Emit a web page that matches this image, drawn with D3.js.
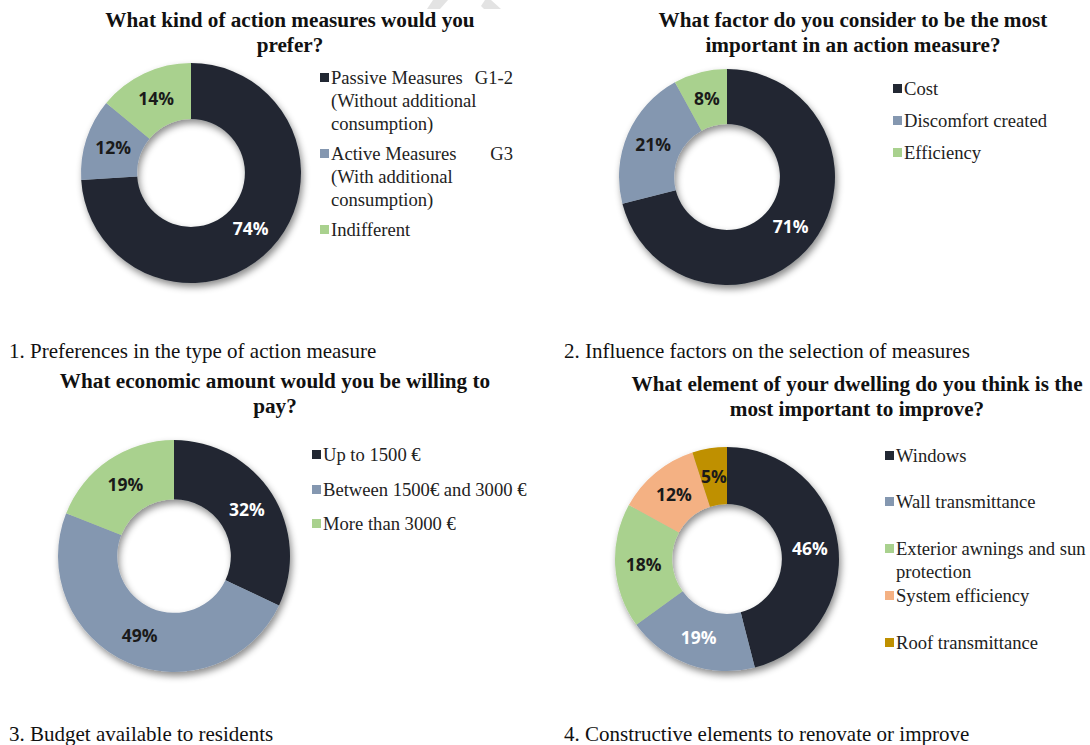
<!DOCTYPE html>
<html>
<head>
<meta charset="utf-8">
<script src="https://cdn.jsdelivr.net/npm/d3@7"></script>
<style>
  html, body { margin: 0; padding: 0; background: #fff; }
  svg { display: block; }
</style>
</head>
<body>
<svg id="chart" width="1090" height="745"></svg>
<script>
// ---------- DATA ----------
const chart1Title = ["What kind of action measures would you", "prefer?"];
const chart1Categories = ["Passive Measures G1-2", "Active Measures G3", "Indifferent"];
const chart1Legend = [["Passive Measures", "(Without additional", "consumption)"], ["Active Measures", "(With additional", "consumption)"], ["Indifferent"]];
const chart1LegendSuffix = ["G1-2", "G3", ""];
const chart1Values = [74, 12, 14];
const chart1Caption = "1. Preferences in the type of action measure";

const chart2Title = ["What factor do you consider to be the most", "important in an action measure?"];
const chart2Categories = ["Cost", "Discomfort created", "Efficiency"];
const chart2Values = [71, 21, 8];
const chart2Caption = "2. Influence factors on the selection of measures";

const chart3Title = ["What economic amount would you be willing to", "pay?"];
const chart3Categories = ["Up to 1500 €", "Between 1500€ and 3000 €", "More than 3000 €"];
const chart3Values = [32, 49, 19];
const chart3Caption = "3. Budget available to residents";

const chart4Title = ["What element of your dwelling do you think is the", "most important to improve?"];
const chart4Categories = ["Windows", "Wall transmittance", "Exterior awnings and sun protection", "System efficiency", "Roof transmittance"];
const chart4Legend = [["Windows"], ["Wall transmittance"], ["Exterior awnings and sun", "protection"], ["System efficiency"], ["Roof transmittance"]];
const chart4Values = [46, 19, 18, 12, 5];
const chart4Caption = "4. Constructive elements to renovate or improve";

// ---------- STYLE ----------
const palette = ["#222833", "#8497B0", "#A9D18E", "#F4B183", "#BF9000"];
const labelColors1 = ["#ffffff", "#1a1a1a", "#1a1a1a"];
const labelColors2 = ["#ffffff", "#1a1a1a", "#1a1a1a"];
const labelColors3 = ["#ffffff", "#1a1a1a", "#1a1a1a"];
const labelColors4 = ["#ffffff", "#ffffff", "#1a1a1a", "#1a1a1a", "#1a1a1a"];

const svg = d3.select("#chart");
const defs = svg.append("defs");
const filt = defs.append("filter").attr("id", "shadow")
  .attr("x", "-20%").attr("y", "-20%").attr("width", "150%").attr("height", "150%");
filt.append("feDropShadow").attr("dx", 2).attr("dy", 4).attr("stdDeviation", 3.5)
  .attr("flood-color", "#000").attr("flood-opacity", 0.45);

// faint watermark fragments at the top edge (decorative)
const wm = svg.append("g").attr("fill", "#e3e3e3");
wm.append("path").attr("d", "M433,0 L448,0 L440,9 L427,9 Z");
wm.append("path").attr("d", "M485,0 L491,0 L501,9 L484,9 L481,6 Z");

const serif = "'Liberation Serif', 'Times New Roman', serif";
const sans = "'Open Sans', 'Noto Sans', sans-serif";

function drawDonut(cfg) {
  const g = svg.append("g");
  // title
  g.append("text")
    .attr("x", cfg.titleX).attr("y", cfg.titleY)
    .attr("text-anchor", "middle")
    .style("font-family", serif).style("font-weight", "bold").style("font-size", "21.2px")
    .style("fill", "#111")
    .selectAll("tspan").data(cfg.title).join("tspan")
    .attr("x", cfg.titleX).attr("dy", (d, i) => i === 0 ? 0 : 24.5)
    .text(d => d);

  const pie = d3.pie().sort(null).startAngle(0).endAngle(2 * Math.PI);
  const arcs = pie(cfg.values);
  const arc = d3.arc().innerRadius(cfg.r * 0.49).outerRadius(cfg.r);
  const labelArc = d3.arc().innerRadius(cfg.r * 0.745).outerRadius(cfg.r * 0.745);

  const pg = g.append("g").attr("transform", `translate(${cfg.cx},${cfg.cy})`);
  pg.append("g").attr("filter", "url(#shadow)")
    .selectAll("path").data(arcs).join("path")
    .attr("d", arc)
    .attr("fill", (d, i) => palette[i])
    .attr("stroke", "none");

  pg.selectAll("text.lbl").data(arcs).join("text")
    .attr("class", "lbl")
    .attr("transform", d => {
      const c = labelArc.centroid(d);
      return `translate(${c[0]},${c[1]})`;
    })
    .attr("text-anchor", "middle").attr("dy", "0.36em")
    .style("font-family", sans).style("font-weight", "bold").style("font-size", "17.5px")
    .style("fill", (d, i) => cfg.labelColors[i])
    .text(d => d.data + "%");

  // legend
  const lg = g.append("g");
  cfg.legend.forEach((lines, i) => {
    const y = cfg.legendY[i];
    lg.append("rect")
      .attr("x", cfg.legendX).attr("y", y - 11)
      .attr("width", 9).attr("height", 9)
      .attr("fill", palette[i]);
    const t = lg.append("text")
      .attr("x", cfg.legendX + 11).attr("y", y)
      .style("font-family", serif).style("font-size", "18.6px").style("fill", "#222");
    t.selectAll("tspan").data(lines).join("tspan")
      .attr("x", cfg.legendX + 11).attr("dy", (d, j) => j === 0 ? 0 : cfg.legendLineH)
      .text(d => d);
    if (cfg.legendSuffix && cfg.legendSuffix[i]) {
      lg.append("text")
        .attr("x", cfg.suffixX).attr("y", y).attr("text-anchor", "end")
        .style("font-family", serif).style("font-size", "18.6px").style("fill", "#222")
        .text(cfg.legendSuffix[i]);
    }
  });

  // caption
  g.append("text")
    .attr("x", cfg.captionX).attr("y", cfg.captionY)
    .style("font-family", serif).style("font-size", "21px").style("fill", "#111")
    .text(cfg.caption);
}

drawDonut({
  title: chart1Title, values: chart1Values, legend: chart1Legend, legendSuffix: chart1LegendSuffix,
  labelColors: labelColors1, caption: chart1Caption,
  titleX: 290, titleY: 27, cx: 191, cy: 173, r: 110,
  legendX: 320, legendY: [84, 160, 236], legendLineH: 23, suffixX: 513,
  captionX: 9, captionY: 358
});

drawDonut({
  title: chart2Title, values: chart2Values, legend: chart2Categories.map(d => [d]),
  labelColors: labelColors2, caption: chart2Caption,
  titleX: 853, titleY: 27, cx: 727, cy: 177, r: 108,
  legendX: 893, legendY: [95, 127, 159], legendLineH: 23,
  captionX: 564, captionY: 358
});

drawDonut({
  title: chart3Title, values: chart3Values, legend: chart3Categories.map(d => [d]),
  labelColors: labelColors3, caption: chart3Caption,
  titleX: 275, titleY: 388, cx: 174, cy: 556, r: 116,
  legendX: 312, legendY: [461, 496, 530], legendLineH: 23,
  captionX: 9, captionY: 741
});

drawDonut({
  title: chart4Title, values: chart4Values, legend: chart4Legend,
  labelColors: labelColors4, caption: chart4Caption,
  titleX: 857, titleY: 391, cx: 727, cy: 559, r: 112,
  legendX: 885, legendY: [462, 508, 555, 602, 649], legendLineH: 22.5,
  captionX: 564, captionY: 741
});
</script>
</body>
</html>
